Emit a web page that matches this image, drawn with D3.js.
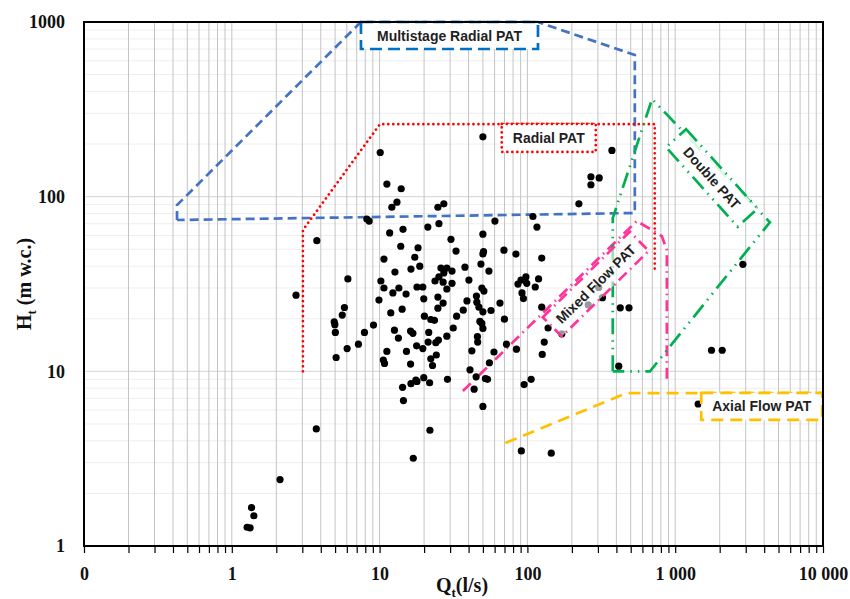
<!DOCTYPE html>
<html>
<head>
<meta charset="utf-8">
<script src="https://cdn.jsdelivr.net/npm/d3@7"></script>
<style>
  body { margin: 0; background: #fff; }
  svg { display: block; }
</style>
</head>
<body>
<div id="app"></div>
<script>
// measured PAT points: flow Q (l/s) and head H (m w.c.)
const flowQ = [
  50, 10.1, 373, 269, 306, 269, 11.2, 14, 223,
  2.12, 1.36, 1.41, 1.27, 1.33,
  304, 258, 322, 425, 487, 415, 1430, 1760, 2080, 2870,
  21.9, 91, 145, 16.9, 3.73,
  12.1, 13.1, 24.8, 27.2, 8.2, 8.5, 109, 3.76, 11.7, 14.4, 21.2, 25.2, 60.3, 116, 30.4,
  32.9, 50, 13.9, 18.2, 50.5, 50, 69.4, 83.6, 125, 10.7, 17.3, 18.7, 16.3, 12.7, 6.1,
  26, 28.5, 27.2, 25.2, 30.9, 23.7, 26.9, 30.9, 28.5,
  37.8, 48.5, 54.9, 10.2, 40.2, 90.5, 86.3, 97.7, 99, 119, 113, 2.72, 10.7, 13.5, 12.3,
  15.1, 17.9, 19.6, 19.9, 24.8, 26.9, 24.8, 49.2, 50.8, 45.2, 39, 45.5, 47, 50, 56.7,
  65.2, 91.9, 94, 125, 9.9, 5.78, 5.59, 14.2, 11.9, 20.1, 22.2, 23.5, 36.8, 33.2, 47.7,
  49.2, 50, 69.9, 138, 171, 4.93, 4.98, 5.02, 7.9, 9.09, 12.6, 16.2, 16.8, 13.4, 17.8,
  19.6, 21.5, 21.3, 24, 25, 28.5, 31.5, 45.9, 46.1, 42.1, 59.4, 55.3, 72.2, 84.3, 130,
  126, 7.19, 6.03, 5.08, 11.2, 10.6, 10.8, 15.2, 16.2, 22.2, 22.8, 24.2, 19.9, 17.6,
  17.9, 16.3, 14.3, 21.8, 28.8, 40.9, 45, 52, 53.7, 43.6, 95, 106, 14.5, 50
];
const headH = [
  220, 179, 184, 130, 128, 117, 118, 111, 91,
  2.4, 1.66, 1.49, 1.28, 1.27,
  30.2, 24, 26.4, 23.1, 23.1, 10.7, 6.5, 13.2, 13.2, 41,
  4.6, 3.5, 3.4, 3.18, 4.68,
  87, 93, 87, 91, 74.5, 72.5, 77, 56, 62, 65, 67, 70, 72.5, 67, 57,
  48.8, 61, 52, 51, 48.5, 47, 49.4, 46.9, 44.5, 43.9, 45, 40, 38.5, 37, 33.8,
  39, 39, 36.6, 34.7, 37.5, 32.9, 32.4, 31.9, 29.6,
  39.5, 41.1, 37.5, 32.9, 33.3, 33.3, 31.6, 34.7, 31.9, 33.8, 30.4, 27.3, 30, 30, 28.1,
  27.7, 30.4, 30.4, 26, 26.6, 24.6, 23, 30, 28.8, 27, 25.3, 24.9, 23.3, 21.9, 22.3,
  24.6, 28.1, 26.1, 23.3, 25.6, 23.2, 21, 22.7, 21.6, 20.7, 19.8, 19.6, 22.4, 20.7, 19.3,
  18.8, 17.6, 19.9, 17.7, 16.4, 19.2, 18.5, 16.7, 16.7, 18.4, 17.2, 17, 16.5, 15.5, 14,
  13.5, 16.7, 14.7, 14.6, 15.1, 15.9, 17.7, 15.8, 14.7, 13.1, 12.9, 11.2, 14.3, 13.4, 14.7,
  12.5, 14.3, 13.5, 12, 13, 11.6, 11.1, 13, 11, 11.8, 10.8, 12.4, 9.2, 8.9,
  8.75, 8.5, 8.1, 8.6, 9.0, 10.2, 9.3, 9.1, 9.0, 7.9, 8.4, 9.0, 6.8, 6.3
];

const xTickValues = [0.1, 1, 10, 100, 1000, 10000];
const xTickLabels = ["0", "1", "10", "100", "1 000", "10 000"];
const yTickValues = [1, 10, 100, 1000];
const yTickLabels = ["1", "10", "100", "1000"];

// application ranges as [Q, H] outlines
const multistageRange = [[0.426, 73.5], [0.426, 89.5], [7.47, 1000], [117.6, 1000], [533, 647], [533, 80.6], [0.426, 73.5]];
const radialRange = [[3.03, 10], [3.03, 64.5], [10.05, 260], [727, 260], [727, 36.6]];
const mixedRange = [[36.6, 7.71], [550, 72.5], [812, 59.5], [878, 49.4], [878, 8.92]];
const doubleRange = [[378, 10], [378, 75.3], [697, 362], [4370, 71.4], [675, 10], [378, 10]];
const axialRange = [[71, 3.89], [470, 7.51], [10000, 7.51]];

const rangeLabels = ["Multistage Radial PAT", "Radial PAT", "Mixed Flow PAT", "Double PAT", "Axial Flow PAT"];
const labelQ = [29.7, 139.5, 290, 1770, 3850];
const labelH = [837, 217, 31.6, 128, 6.3];

const width = 850,
  height = 599;
const plotLeft = 84, plotRight = 823, plotTop = 22, plotBottom = 546;

const x = d3.scaleLog().domain([0.1, 10000]).range([plotLeft, plotRight]);
const y = d3.scaleLog().domain([1, 1000]).range([plotBottom, plotTop]);

const svg = d3.select("#app").append("svg")
  .attr("width", width)
  .attr("height", height);

//grid
const grid = svg.append("g");
grid.selectAll("line.h")
  .data(y.ticks())
  .join("line")
  .attr("x1", plotLeft).attr("x2", plotRight)
  .attr("y1", d => y(d)).attr("y2", d => y(d))
  .attr("stroke", d => (yTickValues.includes(d) ? "#d4d4d4" : "#eeeeee"))
  .attr("stroke-width", 1);

grid.selectAll("line.v")
  .data(x.ticks())
  .join("line")
  .attr("x1", d => x(d)).attr("x2", d => x(d))
  .attr("y1", plotTop).attr("y2", plotBottom)
  .attr("stroke", "#c4c4c4")
  .attr("stroke-width", 1);

//ranges
const line = d3.line().x(d => x(d[0])).y(d => y(d[1]));
const ranges = [
  { pts: multistageRange, color: "#4472C4", dash: "9,5", cap: "butt" },
  { pts: radialRange, color: "#FF0000", dash: "0.01,5", cap: "round" },
  { pts: mixedRange, color: "#FF3399", dash: "11,5,1.5,5", cap: "butt" },
  { pts: doubleRange, color: "#00B050", dash: "16,6,1.5,6,1.5,6", cap: "butt" },
  { pts: axialRange, color: "#FFC000", dash: "12,7", cap: "butt" }
];
svg.append("g").selectAll("path")
  .data(ranges)
  .join("path")
  .attr("d", d => line(d.pts))
  .attr("fill", "none")
  .attr("stroke", d => d.color)
  .attr("stroke-width", 2.7)
  .attr("stroke-dasharray", d => d.dash)
  .attr("stroke-linecap", d => d.cap);

//points
svg.append("g").selectAll("circle")
  .data(flowQ.map((q, i) => [q, headH[i]]))
  .join("circle")
  .attr("cx", d => x(d[0]))
  .attr("cy", d => y(d[1]))
  .attr("r", 3.6)
  .attr("fill", "#000");

//range labels
const labelStyle = [
  { w: 177, h: 27, angle: 0, color: "#0070C0", dash: "12,6", cap: "butt", fill: 1 },
  { w: 94, h: 28, angle: 0, color: "#FF0000", dash: "0.01,5", cap: "round", fill: 1 },
  { w: 122, h: 27, angle: -44.5, color: "#FF3399", dash: "11,5,1.5,5", cap: "butt", fill: 0.6 },
  { w: 107, h: 27, angle: 48, color: "#00B050", dash: "16,6,1.5,6,1.5,6", cap: "butt", fill: 0.85 },
  { w: 121, h: 27, angle: 0, color: "#FFC000", dash: "12,7", cap: "butt", fill: 1 }
];
const labels = svg.append("g").selectAll("g")
  .data(rangeLabels)
  .join("g")
  .attr("transform", (d, i) => `translate(${x(labelQ[i])},${y(labelH[i])}) rotate(${labelStyle[i].angle})`);
labels.append("rect")
  .attr("x", (d, i) => -labelStyle[i].w / 2)
  .attr("y", (d, i) => -labelStyle[i].h / 2)
  .attr("width", (d, i) => labelStyle[i].w)
  .attr("height", (d, i) => labelStyle[i].h)
  .attr("fill", "#fff")
  .attr("fill-opacity", (d, i) => labelStyle[i].fill)
  .attr("stroke", (d, i) => labelStyle[i].color)
  .attr("stroke-width", 2.7)
  .attr("stroke-dasharray", (d, i) => labelStyle[i].dash)
  .attr("stroke-linecap", (d, i) => labelStyle[i].cap);
labels.append("text")
  .attr("text-anchor", "middle")
  .attr("dy", "0.36em")
  .attr("font-family", "'Liberation Sans', Arial, sans-serif")
  .attr("font-weight", "bold")
  .attr("font-size", 14)
  .attr("fill", "#1f1f1f")
  .text(d => d);

//frame
svg.append("rect")
  .attr("x", plotLeft).attr("y", plotTop)
  .attr("width", plotRight - plotLeft).attr("height", plotBottom - plotTop)
  .attr("fill", "none")
  .attr("stroke", "#000")
  .attr("stroke-width", 2);

//axes
const serif = "'Liberation Serif', 'Times New Roman', serif";
const xAxis = svg.append("g")
  .attr("transform", `translate(0,${plotBottom})`)
  .call(d3.axisBottom(x)
    .tickValues(x.ticks())
    .tickSize(7)
    .tickPadding(14)
    .tickFormat(d => {
      const i = xTickValues.findIndex(v => Math.abs(v - d) < d * 1e-6);
      return i >= 0 ? xTickLabels[i] : "";
    }));
xAxis.select(".domain").remove();
xAxis.selectAll("line").attr("stroke", "#000").attr("stroke-width", 1.2);
xAxis.selectAll("text")
  .attr("font-family", serif)
  .attr("font-size", 18)
  .attr("font-weight", "bold")
  .attr("fill", "#111");

const yAxis = svg.append("g")
  .attr("transform", `translate(${plotLeft},0)`)
  .call(d3.axisLeft(y)
    .tickValues(yTickValues)
    .tickSize(0)
    .tickPadding(19)
    .tickFormat((d, i) => yTickLabels[i]));
yAxis.select(".domain").remove();
yAxis.selectAll("text")
  .attr("font-family", serif)
  .attr("font-size", 18)
  .attr("font-weight", "bold")
  .attr("fill", "#111");

//axis titles
const yTitle = svg.append("text")
  .attr("transform", "translate(31,284) rotate(-90)")
  .attr("text-anchor", "middle")
  .attr("font-family", serif)
  .attr("font-weight", "bold")
  .attr("font-size", 20)
  .attr("fill", "#111");
yTitle.append("tspan").text("H");
yTitle.append("tspan").attr("font-size", 13).attr("dy", 5).text("t");
yTitle.append("tspan").attr("dy", -5).text(" (m w.c.)");

const xTitle = svg.append("text")
  .attr("transform", "translate(462,592)")
  .attr("text-anchor", "middle")
  .attr("font-family", serif)
  .attr("font-weight", "bold")
  .attr("font-size", 20)
  .attr("fill", "#111");
xTitle.append("tspan").text("Q");
xTitle.append("tspan").attr("font-size", 13).attr("dy", 5).text("t");
xTitle.append("tspan").attr("dy", -5).text("(l/s)");
</script>
</body>
</html>
